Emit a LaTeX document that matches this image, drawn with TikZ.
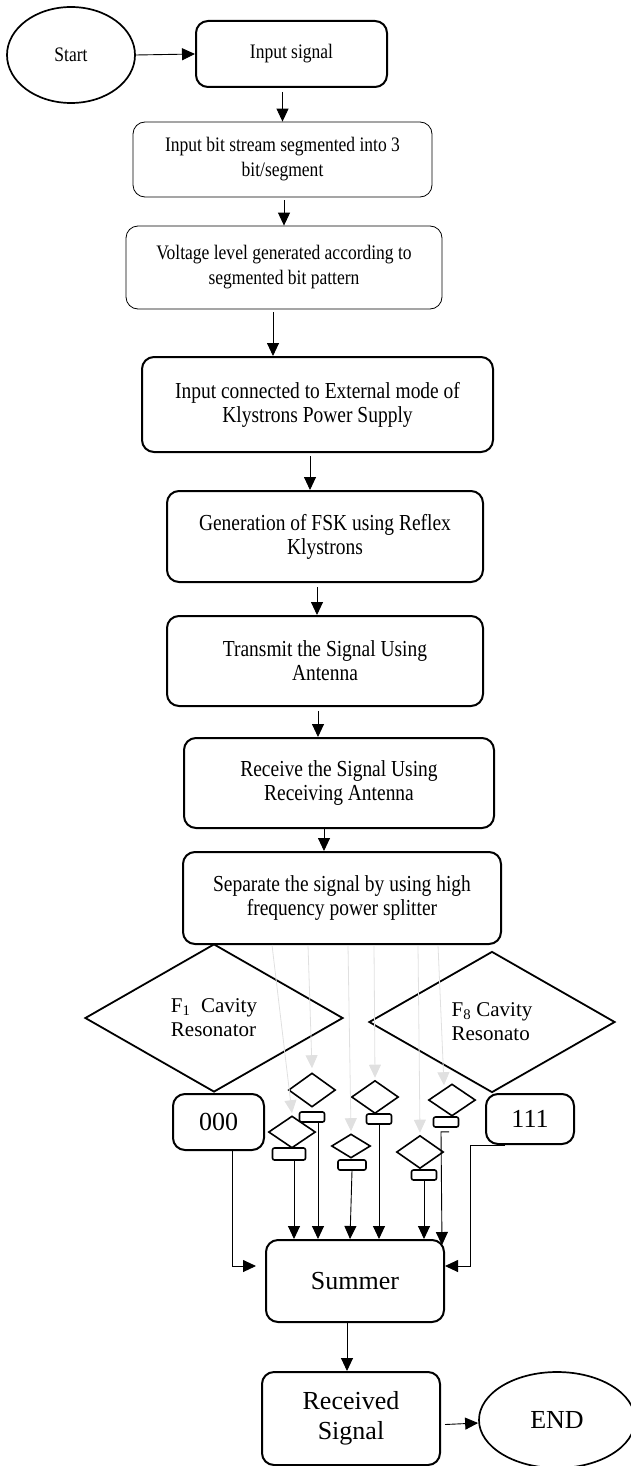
\documentclass[tikz,border=0pt]{standalone}
\usepackage{fontspec}
\setmainfont{Liberation Serif}
\newfontfamily\narrowserif{Liberation Serif}[FakeStretch=0.85]
\usetikzlibrary{shapes.geometric,arrows.meta}

\newcommand{\fsmall}{\narrowserif\fontsize{20.6}{25}\selectfont}
\newcommand{\fmid}{\narrowserif\fontsize{22.9}{24}\selectfont}
\newcommand{\fdia}{\fontsize{21}{24}\selectfont}
\newcommand{\fbig}{\fontsize{26}{30}\selectfont}

\tikzset{
  thinbox/.style={draw, rounded corners=12pt, line width=0.8pt, align=center, font=\fsmall},
  thickbox/.style={draw, rounded corners=12pt, line width=2pt, align=center, font=\fmid},
  oval/.style={draw, ellipse, line width=1.7pt},
  bigdia/.style={draw, diamond, line width=1.8pt, inner sep=0pt, align=left, font=\fdia},
  smalldia/.style={draw, diamond, line width=1.6pt, inner sep=0pt},
  tinybox/.style={draw, rounded corners=2pt, line width=1.6pt, inner sep=0pt},
  arr/.style={-{Triangle[length=13pt,width=12pt]}, line width=0.9pt},
  grayarr/.style={-{Triangle[length=13pt,width=12pt]}, draw=black!12, line width=0.8pt},
}

\begin{document}
\begin{tikzpicture}[x=1pt,y=-1pt]
\useasboundingbox (0,0) rectangle (630,1466);
% main chain
\node[oval, minimum width=128pt, minimum height=96pt, font=\fsmall] (start) at (71,55) {Start};
\node[thickbox, font=\fsmall, minimum width=191pt, minimum height=66pt] (insig) at (291.5,54) {Input signal};
\node[thinbox, minimum width=299pt, minimum height=75pt] (seg) at (282.5,159.5) {Input bit stream segmented into 3\\bit/segment};
\node[thinbox, minimum width=316pt, minimum height=83pt] (volt) at (284,267.5) {Voltage level generated according to\\segmented bit pattern};
\node[thickbox, minimum width=351pt, minimum height=95pt] (conn) at (317.5,404.5) {Input connected to External mode of\\Klystrons Power Supply};
\node[thickbox, minimum width=316pt, minimum height=91pt] (gen) at (325,536.5) {Generation of FSK using Reflex\\Klystrons};
\node[thickbox, minimum width=316pt, minimum height=90pt] (trans) at (325,661) {Transmit the Signal Using\\Antenna};
\node[thickbox, minimum width=310pt, minimum height=90pt] (recv) at (339,783) {Receive the Signal Using\\Receiving Antenna};
\node[thickbox, minimum width=318pt, minimum height=92pt] (sep) at (342,898) {Separate the signal by using high\\frequency power splitter};

% cavity resonators
\node[bigdia, minimum width=258pt, minimum height=148pt] (cav1) at (214,1018) {F\textsubscript{1}\ \ Cavity\\Resonator};
\node[bigdia, minimum width=246pt, minimum height=141pt] (cav8) at (492,1022) {F\textsubscript{8} Cavity\\Resonato};
\node[thickbox, font=\fbig, minimum width=91pt, minimum height=56pt] (b000) at (218.5,1122) {000};
\node[thickbox, font=\fbig, minimum width=88pt, minimum height=50pt] (b111) at (530,1119) {111};

% the six middle resonators
\node[smalldia, minimum width=47pt, minimum height=32pt] (sd1) at (292,1132) {};
\node[smalldia, minimum width=47pt, minimum height=34pt] (sd2) at (312,1090) {};
\node[smalldia, minimum width=39pt, minimum height=24pt] (sd3) at (351,1146) {};
\node[smalldia, minimum width=47pt, minimum height=33pt] (sd4) at (375,1097) {};
\node[smalldia, minimum width=47pt, minimum height=33pt] (sd5) at (420,1152) {};
\node[smalldia, minimum width=47pt, minimum height=32pt] (sd6) at (452,1100) {};
\node[tinybox, minimum width=33pt, minimum height=12pt] (r1) at (289,1154) {};
\node[tinybox, minimum width=25pt, minimum height=10pt] (r2) at (312,1117) {};
\node[tinybox, minimum width=28pt, minimum height=10pt] (r3) at (352,1165) {};
\node[tinybox, minimum width=25pt, minimum height=10pt] (r4) at (379,1119) {};
\node[tinybox, minimum width=25pt, minimum height=10pt] (r5) at (424,1175) {};
\node[tinybox, minimum width=25pt, minimum height=10pt] (r6) at (446,1122) {};

\node[thickbox, font=\fbig, minimum width=178pt, minimum height=82pt] (summer) at (355,1281) {Summer};
\node[thickbox, font=\fbig, minimum width=178pt, minimum height=93pt] (rsig) at (351,1418.5) {Received\\Signal};
\node[oval, font=\fbig, minimum width=156pt, minimum height=96pt] (theend) at (557,1420) {END};

% arrows down the chain
\draw[arr] (start.east) -- (insig.west);
\draw[arr, shorten <=4pt] (seg.north |- insig.south) -- (seg.north);
\draw[arr, shorten <=3pt] (volt.north |- seg.south) -- (volt.north);
\draw[arr, shorten <=3pt] ([xshift=-11pt]volt.south) -- ([xshift=-11pt]volt.south |- conn.north);
\draw[arr, shorten <=3pt] ([xshift=-7.5pt]conn.south) -- ([xshift=-7.5pt]conn.south |- gen.north);
\draw[arr, shorten <=4pt] ([xshift=-8pt]gen.south) -- ([xshift=-8pt]gen.south |- trans.north);
\draw[arr, shorten <=4pt] ([xshift=-7pt]trans.south) -- ([xshift=-7pt]trans.south |- recv.north);
\draw[arr] ([xshift=-15pt]recv.south) -- ([xshift=-15pt]recv.south |- sep.north);

% splitter outputs
\draw[grayarr] ([xshift=-70pt]sep.south) -- ([yshift=2pt]sd1.north);
\draw[grayarr] ([xshift=-34pt]sep.south) -- ([yshift=4pt]sd2.north);
\draw[grayarr] ([xshift=6pt]sep.south) -- ([yshift=2pt]sd3.north);
\draw[grayarr] ([xshift=32pt]sep.south) -- ([yshift=2pt]sd4.north);
\draw[grayarr] ([xshift=76pt]sep.south) -- ([yshift=2pt]sd5.north);
\draw[grayarr] ([xshift=96pt]sep.south) -- ([xshift=-8pt,yshift=-2pt]sd6.north);

% into the summer
\draw[arr] ([xshift=14pt]b000.south) |- ([xshift=-9pt,yshift=15pt]summer.west);
\draw[arr] ([xshift=-25pt]b111.south) -- ++(-35,0) |- ([yshift=15pt]summer.east);
\draw[arr] ([xshift=5pt]r1.south) -- ([xshift=5pt]r1.south |- summer.north);
\draw[arr] ([xshift=6pt]r2.south) -- ([xshift=6pt]r2.south |- summer.north);
\draw[arr] (r3.south) -- ([xshift=-2pt]r3.south |- summer.north);
\draw[arr] (r4.south) -- (r4.south |- summer.north);
\draw[arr] (r5.south) -- (r5.south |- summer.north);
\draw[arr] ([xshift=3pt,yshift=-4pt]r6.south) -- ++(-8,0) -- ([xshift=-3pt,yshift=-6pt]summer.north east);
\draw[arr] ([xshift=-8pt]summer.south) -- ([xshift=-4pt]rsig.north);
\draw[arr] ([xshift=4pt,yshift=-6pt]rsig.east) -- ([yshift=-3pt]theend.west);
\end{tikzpicture}
\end{document}
